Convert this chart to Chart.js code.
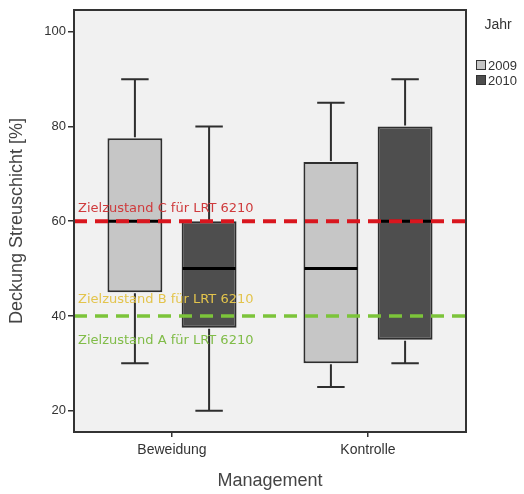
<!DOCTYPE html>
<html>
<head>
<meta charset="utf-8">
<script src="https://cdn.jsdelivr.net/npm/chart.js@4.4.1/dist/chart.umd.min.js"></script>
<style>
  html, body { margin: 0; padding: 0; background: #fff; }
  #wrap { width: 524px; height: 494px; }
</style>
</head>
<body>
<div id="wrap"><canvas id="chart"></canvas></div>
<script>
// Kategorien und Jahre
var categories = ['Beweidung', 'Kontrolle'];
var years = ['2009', '2010'];

// Boxplot-Kennwerte je Jahr: [Beweidung, Kontrolle]
var min2009 = [30, 25];
var q1_2009 = [45, 30];
var median2009 = [60, 50];
var q3_2009 = [77.5, 72.5];
var max2009 = [90, 85];

var min2010 = [20, 30];
var q1_2010 = [37.5, 35];
var median2010 = [50, 60];
var q3_2010 = [60, 80];
var max2010 = [80, 90];

var yTicks = [20, 40, 60, 80, 100];

// Zielzustände (Referenzlinien)
var refValues = [60, 40];
var refColors = ['#d9161e', '#7cc43a'];
var zielTexts = ['Zielzustand C für LRT 6210', 'Zielzustand B für LRT 6210', 'Zielzustand A für LRT 6210'];
var zielValues = [60, 40, 40];
var zielColors = ['#cf3a3c', '#e3c44c', '#80bc48'];
var zielOffsets = [-13, -16, 25];

function boxes(q1, q3) {
    return q1.map(function (v, i) { return [v, q3[i]]; });
}

var datasets = [
    {
        label: years[0], data: boxes(q1_2009, q3_2009),
        mins: min2009, medians: median2009, maxs: max2009,
        backgroundColor: '#c6c6c6'
    },
    {
        label: years[1], data: boxes(q1_2010, q3_2010),
        mins: min2010, medians: median2010, maxs: max2010,
        backgroundColor: '#4e4e4e'
    }
];
datasets.forEach(function (d) {
    d.borderColor = '#2e2e2e';
    d.borderWidth = 2;
    d.borderSkipped = false;
    d.categoryPercentage = 0.757;
    d.barPercentage = 0.74;
});

// Hintergrund der Zeichenfläche
var plotBg = {
    id: 'plotBg',
    beforeDatasetsDraw: function (chart) {
        var a = chart.chartArea, ctx = chart.ctx;
        ctx.save();
        ctx.fillStyle = '#f1f1f1';
        ctx.fillRect(a.left, a.top, a.right - a.left, a.bottom - a.top);
        ctx.restore();
    }
};

// Whisker, Median, Referenzlinien, Rahmen, Legende
var boxExtras = {
    id: 'boxExtras',
    afterDatasetsDraw: function (chart) {
        var ctx = chart.ctx, y = chart.scales.y, a = chart.chartArea;
        ctx.save();
        chart.data.datasets.forEach(function (ds, di) {
            var meta = chart.getDatasetMeta(di);
            meta.data.forEach(function (bar, i) {
                var x = bar.x, w = bar.width;
                var pMin = y.getPixelForValue(ds.mins[i]);
                var pMax = y.getPixelForValue(ds.maxs[i]);
                var pQ1 = y.getPixelForValue(ds.data[i][0]);
                var pQ3 = y.getPixelForValue(ds.data[i][1]);
                var pMed = y.getPixelForValue(ds.medians[i]);
                ctx.strokeStyle = '#2e2e2e';
                ctx.lineWidth = 2;
                ctx.beginPath();
                ctx.moveTo(x, pQ3 - 1); ctx.lineTo(x, pMax);
                ctx.moveTo(x, pQ1 + 1); ctx.lineTo(x, pMin);
                ctx.moveTo(x - w / 4, pMax); ctx.lineTo(x + w / 4, pMax);
                ctx.moveTo(x - w / 4, pMin); ctx.lineTo(x + w / 4, pMin);
                ctx.stroke();
                ctx.strokeStyle = '#000';
                ctx.lineWidth = 3;
                ctx.beginPath();
                ctx.moveTo(x - w / 2 + 1, pMed); ctx.lineTo(x + w / 2 - 1, pMed);
                ctx.stroke();
            });
        });

        // Referenzlinien
        refValues.forEach(function (v, i) {
            var py = y.getPixelForValue(v);
            ctx.strokeStyle = refColors[i];
            ctx.lineWidth = i === 0 ? 4 : 3.5;
            ctx.setLineDash([13, 8]);
            ctx.beginPath();
            ctx.moveTo(a.left, py); ctx.lineTo(a.right, py);
            ctx.stroke();
        });
        ctx.setLineDash([]);

        // Beschriftungen der Zielzustände
        ctx.font = '13px "DejaVu Sans"';
        ctx.textBaseline = 'middle';
        ctx.textAlign = 'left';
        zielTexts.forEach(function (t, i) {
            ctx.fillStyle = zielColors[i];
            ctx.fillText(t, a.left + 4, y.getPixelForValue(zielValues[i]) + zielOffsets[i]);
        });

        // Rahmen
        ctx.strokeStyle = '#333';
        ctx.lineWidth = 2;
        ctx.strokeRect(a.left, a.top, a.right - a.left, a.bottom - a.top);
        ctx.restore();
    },
    afterDraw: function (chart) {
        var ctx = chart.ctx;
        ctx.save();
        ctx.fillStyle = '#333';
        ctx.font = '14px "Liberation Sans"';
        ctx.textAlign = 'center';
        ctx.textBaseline = 'middle';
        ctx.fillText('Jahr', 498, 25);
        ctx.textAlign = 'left';
        ctx.font = '13px "Liberation Sans"';
        chart.data.datasets.forEach(function (ds, i) {
            var cy = 65 + i * 15;
            ctx.fillStyle = ds.backgroundColor;
            ctx.fillRect(476, cy - 5, 10, 10);
            ctx.strokeStyle = '#333';
            ctx.lineWidth = 1;
            ctx.strokeRect(476.5, cy - 4.5, 9, 9);
            ctx.fillStyle = '#333';
            ctx.fillText(ds.label, 488, cy + 1);
        });
        ctx.restore();
    }
};

new Chart(document.getElementById('chart'), {
    type: 'bar',
    data: { labels: categories, datasets: datasets },
    plugins: [plotBg, boxExtras],
    options: {
        responsive: true,
        maintainAspectRatio: false,
        animation: false,
        layout: { padding: { top: 10, right: 58, left: 0, bottom: 0 } },
        plugins: { legend: { display: false }, tooltip: { enabled: false } },
        scales: {
            x: {
                offset: true,
                grid: { offset: false, drawOnChartArea: false, drawTicks: true, tickLength: 5, color: '#333', lineWidth: 1.5 },
                border: { color: '#333', width: 2 },
                ticks: { color: '#333', font: { family: 'Liberation Sans', size: 14 }, padding: 5 },
                title: { display: true, text: 'Management', color: '#444', font: { family: 'Liberation Sans', size: 18 }, padding: { top: 4, bottom: 2 } },
                afterFit: function (s) { s.height = 62; }
            },
            y: {
                min: 15.5,
                max: 104.6,
                afterBuildTicks: function (s) { s.ticks = yTicks.map(function (v) { return { value: v }; }); },
                grid: { drawOnChartArea: false, drawTicks: true, tickLength: 6, color: '#333', lineWidth: 1.5 },
                border: { color: '#333', width: 2 },
                ticks: { color: '#333', font: { family: 'Liberation Sans', size: 13 }, padding: 2 },
                title: { display: true, text: 'Deckung Streuschicht [%]', color: '#444', font: { family: 'Liberation Sans', size: 18 }, padding: { top: 6, bottom: 4 } },
                afterFit: function (s) { s.width = 74; }
            }
        }
    }
});
</script>
</body>
</html>
